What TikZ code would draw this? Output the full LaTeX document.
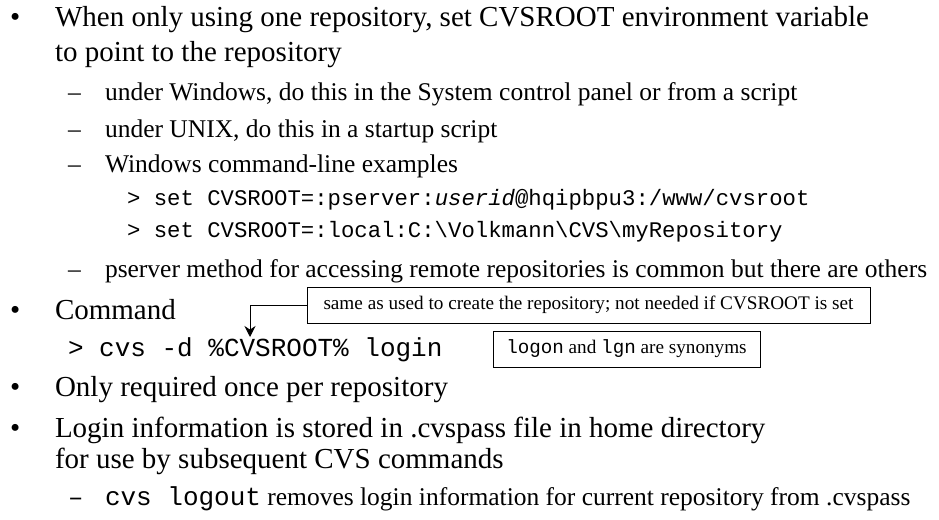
\documentclass[tikz,border=0pt]{standalone}
\usepackage{fontspec}
\setmainfont{Liberation Serif}
\setmonofont{Liberation Mono}
\usetikzlibrary{arrows.meta}

\begin{document}
\begin{tikzpicture}[x=1pt,y=-1pt,
  txt/.style={anchor=base west, inner sep=0pt, outer sep=0pt},
  lone/.style={txt, font=\fontsize{29}{31}\selectfont},
  ltwo/.style={txt, font=\fontsize{25.5}{27}\selectfont},
  lcode/.style={txt, font=\fontsize{22.3}{24}\selectfont\ttfamily},
  lcmd/.style={txt, font=\fontsize{26}{28}\selectfont\ttfamily},
  note/.style={draw, line width=0.9pt, inner sep=0pt, minimum height=36pt,
               font=\fontsize{19.2}{21}\selectfont},
  pointer/.style={line width=0.9pt, -{Stealth[length=11pt,width=11pt]}},
]
\useasboundingbox (0,0) rectangle (939,519);

% first bullet
\node[lone] (d1) at (10,27) {•};
\node[lone] (t1) at (55,27) {When only using one repository, set CVSROOT environment variable};
\node[lone] (t1b) at (55,62) {to point to the repository};
\node[ltwo] (d2) at (68,100) {–};
\node[ltwo] (t2) at (105,100) {under Windows, do this in the System control panel or from a script};
\node[ltwo] (d3) at (68,137) {–};
\node[ltwo] (t3) at (105,137) {under UNIX, do this in a startup script};
\node[ltwo] (d4) at (68,172) {–};
\node[ltwo] (t4) at (105,172) {Windows command-line examples};
\node[lcode] (c1) at (127,205) {> set CVSROOT=:pserver:\textit{userid}@hqipbpu3:/www/cvsroot};
\node[lcode] (c2) at (127,237) {> set CVSROOT=:local:C:\textbackslash Volkmann\textbackslash CVS\textbackslash myRepository};
\node[ltwo] (d5) at (68,277) {–};
\node[ltwo] (t5) at (105,277) {pserver method for accessing remote repositories is common but there are others};

% second bullet
\node[lone] (d6) at (10,319) {•};
\node[lone] (t6) at (55,319) {Command};
\node[lcmd] (cmd) at (68,356) {> cvs -d \%CVSROOT\% login};

% notes beside the command
\node[note, minimum width=563pt] (n1) at (588.5,305)
  {same as used to create the repository; not needed if CVSROOT is set};
\node[note, minimum width=267pt] (n2) at (626.5,349)
  {\texttt{logon} and \texttt{lgn} are synonyms};
\coordinate (tip) at (250,337);
\draw[pointer] (n1.west) -| (tip);

% third and fourth bullets
\node[lone] (d7) at (10,396) {•};
\node[lone] (t7) at (55,396) {Only required once per repository};
\node[lone] (d8) at (10,437) {•};
\node[lone] (t8) at (55,437) {Login information is stored in .cvspass file in home directory};
\node[lone] (t8b) at (55,468) {for use by subsequent CVS commands};
\node[ltwo] (d9) at (68,505) {\ttfamily –};
\node[ltwo] (t9) at (105,505) {{\fontsize{26}{28}\selectfont\ttfamily cvs logout} removes login information for current repository from .cvspass};
\end{tikzpicture}
\end{document}
